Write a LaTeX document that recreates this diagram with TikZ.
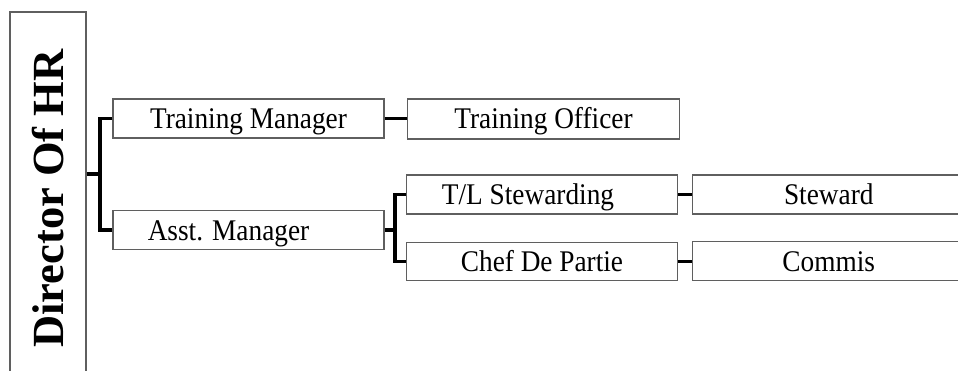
\documentclass[tikz,border=0pt]{standalone}
\usepackage{fontspec}
\setmainfont{Liberation Serif}
\newfontfamily\boxfont{Liberation Serif}[FakeStretch=0.91]
\definecolor{boxline}{RGB}{95,95,95}
\begin{document}
\begin{tikzpicture}[x=1pt,y=-1pt,
  box/.style={draw=boxline, line width=1.1pt, rectangle, inner sep=0pt, fill=white,
    font=\boxfont\fontsize{30}{35}\selectfont, text height=20pt, text depth=0pt},
  lbl/.style={inner sep=0pt, font=\boxfont\fontsize{30}{35}\selectfont, text height=20pt, text depth=0pt},
  conn/.style={draw=black, line width=3.8pt}]
\clip (0,0) rectangle (958,371);
\fill[white] (0,0) rectangle (958,371);
% Director box (open at bottom)
\node[draw=boxline, line width=1.1pt, rectangle, inner sep=0pt, rotate=90,
  minimum width=373pt, minimum height=76pt,
  font=\bfseries\fontsize{44.5}{50}\selectfont] (dir) at (48,198.5) {Director Of HR};
% Boxes
\node[box, minimum width=271pt, minimum height=39pt] (tm) at (248.5,118.5) {Training Manager};
\node[box, minimum width=272pt, minimum height=40pt] (to) at (543.5,119) {Training Officer};
\node[box, minimum width=271pt, minimum height=39pt] (am) at (248.5,230) {};
\node[lbl] (amt) at ([xshift=-20pt,yshift=-1pt]am.center) {Asst. Manager};
\node[box, minimum width=271pt, minimum height=39pt] (tl) at (542,194.5) {};
\node[lbl] (tlt) at ([xshift=-14pt]tl.center) {T/L Stewarding};
\node[box, minimum width=271pt, minimum height=38.5pt] (cdp) at (542,261.5) {Chef De Partie};
\node[box, minimum width=272.5pt, minimum height=39pt] (st) at (828.75,194.5) {Steward};
\node[box, minimum width=272.5pt, minimum height=39pt] (cm) at (828.75,261.3) {Commis};
% Connectors
\coordinate (j1) at (100,174);
\coordinate (j2) at (395,230);
\draw[conn] (dir.south |- j1) -- (j1);
\draw[conn] (tm.west) -| (j1) |- (am.west);
\draw[conn] (tm.east) -- (tm.east -| to.west);
\draw[conn] (am.east) -- (j2);
\draw[conn] (tl.west) -| (j2) |- (cdp.west);
\draw[conn] (tl.east) -- (tl.east -| st.west);
\draw[conn] (cdp.east) -- (cdp.east -| cm.west);
\end{tikzpicture}
\end{document}
